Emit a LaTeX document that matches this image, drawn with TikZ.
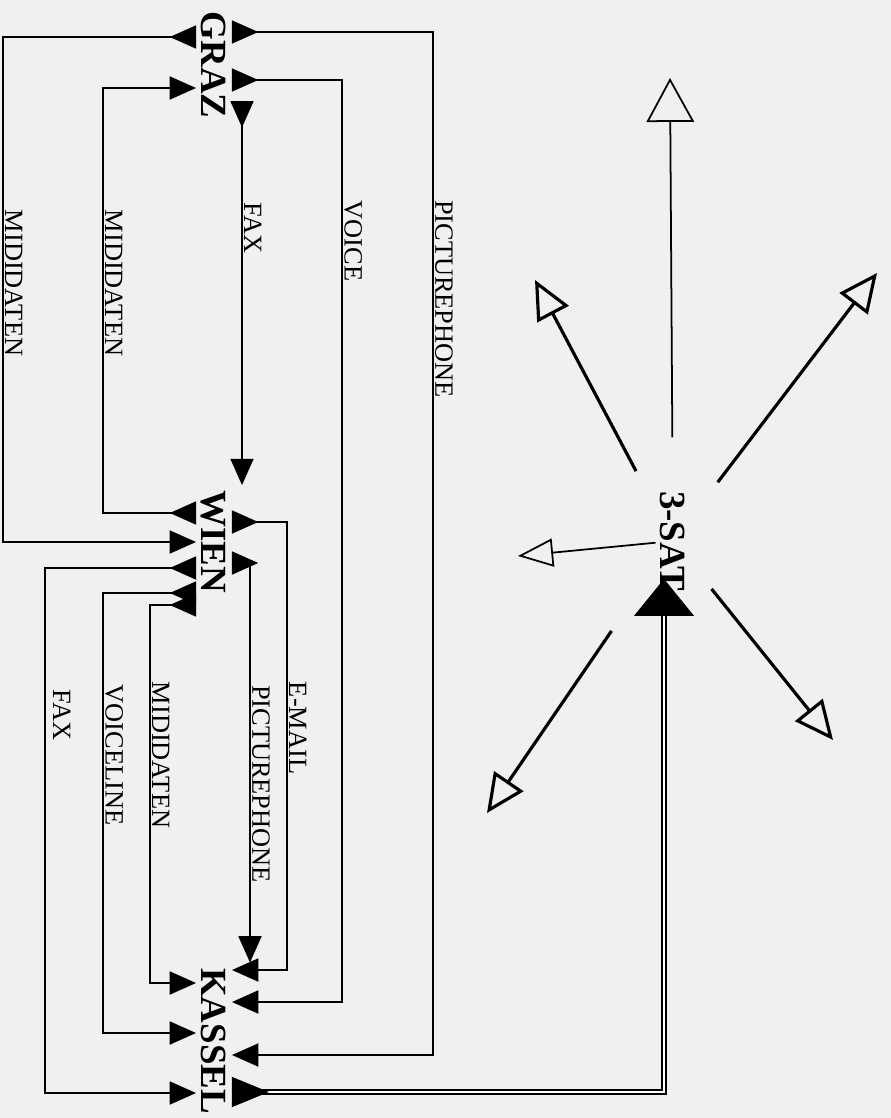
\documentclass[tikz,border=0pt]{standalone}
\usepackage{fontspec}
\setmainfont{Liberation Serif}
\usetikzlibrary{arrows.meta}

\definecolor{paper}{gray}{0.94}

\tikzset{
  city/.style={font=\bfseries\fontsize{21}{21}\selectfont, rotate=-90, inner sep=3pt, text height=14pt, text depth=0pt},
  lbl/.style={font=\fontsize{15}{15}\selectfont, rotate=-90, anchor=south, inner sep=1pt},
  link/.style={line width=1.3pt, {Triangle[reversed,length=15pt,width=13pt]}-{Triangle[length=15pt,width=13pt]}},
  satlink/.style={line width=0.9pt, double, double distance=1.4pt, {Triangle[reversed,length=21pt,width=17pt]}-{Triangle[length=21pt,width=34pt]}},
  ray/.style={line width=1.8pt, -{Triangle[open,length=22pt,width=20pt]}},
}

\begin{document}
\begin{tikzpicture}[x=0.02cm, y=-0.02cm]
  \fill[paper] (0,0) rectangle (891,1118);
  \useasboundingbox (0,0) rectangle (891,1118);

  % cities
  \node[city] (graz) at (214,65) {GRAZ};
  \node[city] (wien) at (214,542) {WIEN};
  \node[city] (kassel) at (214,1041) {KASSEL};
  \node[city] (sat) at (673,541) {3-SAT};

  % Graz
  \draw[link] (graz.north |- 0,32) -- (433,32) -- (433,1055) -- (kassel.north |- 0,1055);
  \node[lbl] (ppgk) at (433,299) {PICTUREPHONE};
  \draw[link] (graz.north |- 0,80) -- (342,80) -- (342,1002) -- (kassel.north |- 0,1002);
  \node[lbl] (voice) at (342,241) {VOICE};
  \draw[link, shorten <=-13pt] (graz.east -| 242,0) -- (wien.west -| 242,0);
  \node[lbl] (faxgw) at (242,228) {FAX};
  \draw[link] (graz.south |- 0,37) -- (3,37) -- (3,542) -- (wien.south |- 0,542);
  \node[lbl] (midigw) at (3,283) {MIDIDATEN};
  \draw[link] (wien.south |- 0,513) -- (103,513) -- (103,88) -- (graz.south |- 0,88);
  \node[lbl] (midiwg) at (103,283) {MIDIDATEN};

  % Wien -- Kassel
  \draw[link] (wien.north |- 0,522) -- (287,522) -- (287,970) -- (kassel.north |- 0,970);
  \node[lbl] (email) at (287,728) {E-MAIL};
  \draw[link] (wien.north |- 0,563) -- (250,563) -- (kassel.west -| 250,0);
  \node[lbl] (ppwk) at (250,784) {PICTUREPHONE};
  \draw[link] (wien.south |- 0,568) -- (45,568) -- (45,1093) -- (kassel.south |- 0,1093);
  \node[lbl] (faxwk) at (51,715) {FAX};
  \draw[link] (wien.south |- 0,593) -- (103,593) -- (103,1033) -- (kassel.south |- 0,1033);
  \node[lbl] (voiceline) at (103,755) {VOICELINE};
  \draw[link] (wien.south |- 0,605) -- (150,605) -- (150,983) -- (kassel.south |- 0,983);
  \node[lbl] (midiwk) at (150,755) {MIDIDATEN};

  % Kassel -- 3-SAT
  \draw[satlink, shorten >=-10pt] (kassel.north |- 0,1092) -- (664,1092) -- (sat.east -| 664,0);

  % 3-SAT rays
  \coordinate (tipN) at (670,78);
  \coordinate (tipNW) at (535,280);
  \coordinate (tipNE) at (877,273);
  \coordinate (tipW) at (518,556);
  \coordinate (tipSE) at (833,740);
  \coordinate (tipSW) at (487,813);
  \draw[ray, line width=1pt, -{Triangle[open,length=25pt,width=27pt]}, shorten <=59pt] (sat.center) -- (tipN);
  \draw[ray, shorten <=45pt] (sat.center) -- (tipNW);
  \draw[ray, shorten <=42pt] (sat.center) -- (tipNE);
  \draw[ray, line width=1pt, -{Triangle[open,length=20pt,width=16pt]}, shorten <=10pt] (sat.center) -- (tipW);
  \draw[ray, shorten <=35pt] (sat.center) -- (tipSE);
  \draw[ray, shorten <=62pt] (sat.center) -- (tipSW);
\end{tikzpicture}
\end{document}
